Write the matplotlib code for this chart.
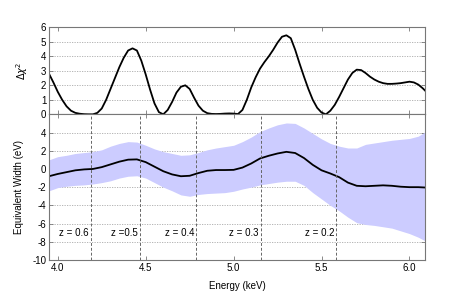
import matplotlib
matplotlib.use("Agg")
import matplotlib.pyplot as plt
import numpy as np

plt.rcParams['font.family'] = ['Liberation Sans', 'DejaVu Sans']
plt.rcParams['font.size'] = 7
plt.rcParams['axes.unicode_minus'] = False

# delta chi^2 curve on a 0.025 keV grid
energy_chi = [3.95, 3.975, 4.00, 4.025, 4.05, 4.075, 4.10, 4.125, 4.15, 4.175,
              4.20, 4.225, 4.25, 4.275, 4.30, 4.325, 4.35, 4.375, 4.40, 4.425,
              4.45, 4.475, 4.50, 4.525, 4.55, 4.575, 4.60, 4.625, 4.65, 4.675,
              4.70, 4.725, 4.75, 4.775, 4.80, 4.825, 4.85, 4.875, 4.90, 4.925,
              4.95, 4.975, 5.00, 5.025, 5.05, 5.075, 5.10, 5.125, 5.15, 5.175,
              5.20, 5.225, 5.25, 5.275, 5.30, 5.325, 5.35, 5.375, 5.40, 5.425,
              5.45, 5.475, 5.50, 5.525, 5.55, 5.575, 5.60, 5.625, 5.65, 5.675,
              5.70, 5.725, 5.75, 5.775, 5.80, 5.825, 5.85, 5.875, 5.90, 5.925,
              5.95, 5.975, 6.00, 6.025, 6.05, 6.075, 6.10]

dchi2 = [2.8, 2.2, 1.55, 1.0, 0.55, 0.25, 0.1, 0.04, 0.01, 0.0,
         0.0, 0.1, 0.4, 1.0, 1.75, 2.5, 3.25, 3.9, 4.4, 4.55,
         4.4, 3.7, 2.75, 1.7, 0.75, 0.15, 0.0, 0.3, 0.85, 1.5,
         1.9, 2.0, 1.75, 1.15, 0.6, 0.25, 0.08, 0.03, 0.02, 0.03,
         0.05, 0.06, 0.05, 0.02, 0.3, 1.0, 1.85, 2.55, 3.15, 3.6,
         4.0, 4.45, 4.95, 5.35, 5.45, 5.25, 4.45, 3.5, 2.6, 1.75,
         1.0, 0.45, 0.12, 0.0, 0.25, 0.65, 1.2, 1.8, 2.4, 2.85,
         3.08, 3.05, 2.85, 2.6, 2.4, 2.25, 2.15, 2.1, 2.1, 2.12,
         2.15, 2.2, 2.25, 2.2, 2.05, 1.8, 1.5]

# equivalent width and its band, 0.05 keV grid
energy = [3.95, 4.00, 4.05, 4.10, 4.15, 4.20, 4.25, 4.30, 4.35, 4.40,
          4.45, 4.50, 4.55, 4.60, 4.65, 4.70, 4.75, 4.80, 4.85, 4.90,
          4.95, 5.00, 5.05, 5.10, 5.15, 5.20, 5.25, 5.30, 5.35, 5.40,
          5.45, 5.50, 5.55, 5.60, 5.65, 5.70, 5.75, 5.80, 5.85, 5.90,
          5.95, 6.00, 6.05, 6.10]

ew_mean = [-0.8, -0.55, -0.35, -0.15, -0.05, 0.0, 0.2, 0.5, 0.8, 1.02,
           1.05, 0.75, 0.25, -0.25, -0.6, -0.8, -0.75, -0.45, -0.2, -0.12,
           -0.12, -0.1, 0.15, 0.6, 1.15, 1.45, 1.7, 1.88, 1.75, 1.2,
           0.45, -0.15, -0.5, -0.9, -1.5, -1.85, -1.9, -1.85, -1.8, -1.85,
           -1.95, -2.0, -2.0, -2.05]

ew_upper = [1.0, 1.35, 1.5, 1.7, 1.8, 1.9, 2.1, 2.5, 2.8, 3.0,
            2.95, 2.6, 2.2, 1.9, 1.7, 1.5, 1.55, 1.8, 2.1, 2.3,
            2.45, 2.6, 3.0, 3.5, 4.1, 4.5, 4.85, 5.05, 5.0, 4.5,
            3.9, 3.3, 2.8, 2.5, 2.3, 2.3, 2.7, 2.85, 3.0, 3.15,
            3.25, 3.35, 3.6, 4.2]

ew_lower = [-2.4, -2.05, -1.9, -1.8, -1.75, -1.65, -1.5, -1.3, -1.0, -0.8,
            -0.75, -1.0, -1.5, -2.0, -2.4, -2.85, -3.0, -2.8, -2.7, -2.65,
            -2.6, -2.45, -2.2, -2.0, -1.75, -1.6, -1.45, -1.35, -1.35, -1.8,
            -2.6, -3.3, -4.0, -4.6, -5.3, -5.9, -6.1, -6.2, -6.35, -6.5,
            -6.8, -7.1, -7.5, -8.0]

redshifts = [0.6, 0.5, 0.4, 0.3, 0.2]
z_labels = ["z = 0.6", "z =0.5", "z = 0.4", "z = 0.3", "z = 0.2"]
line_energy = 6.7

fig = plt.figure(figsize=(4.63, 2.95), dpi=100)
ax1 = fig.add_axes([0.1058, 0.6125, 0.8128, 0.2949])
ax2 = fig.add_axes([0.1058, 0.1186, 0.8128, 0.4939])

for ax in (ax1, ax2):
    for s in ax.spines.values():
        s.set_color('#777777')
        s.set_linewidth(0.8)
    ax.tick_params(direction='in', top=True, right=True, length=3,
                   width=0.6, color='#777777', pad=2)
    ax.grid(axis='y', color='#aaaaaa', linestyle=(0, (1.5, 1.5)), linewidth=0.6)
    ax.set_axisbelow(True)
    ax.set_xlim(3.95, 6.09)
    ax.set_xticks([4.0, 4.5, 5.0, 5.5, 6.0])

ax1.plot(energy_chi, dchi2, color='black', lw=1.3)
ax1.set_ylim(0, 6)
ax1.set_yticks(range(0, 7))
ax1.set_xticklabels([])
ax1.set_ylabel(r'$\Delta\chi^2$', labelpad=8)

ax2.fill_between(energy, ew_lower, ew_upper, color='#ccccff', lw=0)
ax2.plot(energy, ew_mean, color='black', lw=1.3)
ax2.set_ylim(-10, 6)
ax2.set_yticks(range(-10, 5, 2))
ax2.set_xticklabels(['4.0', '4.5', '5.0', '5.5', '6.0'])
ax2.set_xlabel('Energy (keV)', labelpad=6)
ax2.set_ylabel('Equivalent Width (eV)', labelpad=6)

for z, lab in zip(redshifts, z_labels):
    e = line_energy / (1 + z)
    ax2.axvline(e, color='#666666', lw=0.7, linestyle=(0, (3, 2)))
    ax2.text(e - 0.01, -7, lab, ha='right', va='center', fontsize=7)

fig.savefig('out.png', dpi=100)
